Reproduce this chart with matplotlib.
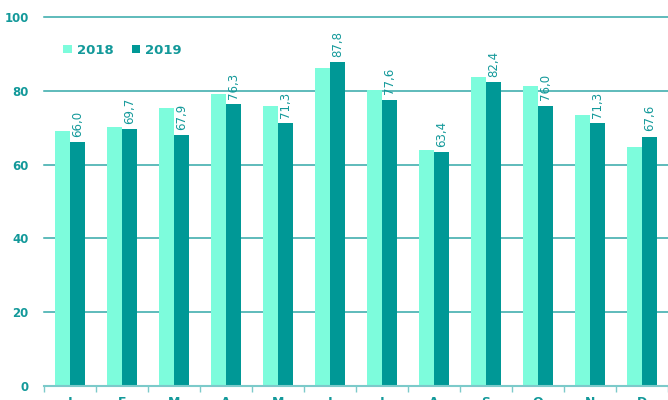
import matplotlib.pyplot as plt
import numpy as np

plt.rcParams.update({
    "font.family": "DejaVu Sans",
    "figure.dpi": 100,
})

TEAL = "#13999a"
PALETTE = {"2018": "#7dfcdc", "2019": "#009896", "grid": "#33a8a8", "axis": "#7ccaca"}

months = ["J", "F", "M", "A", "M", "J", "J", "A", "S", "O", "N", "D"]
v2018 = [69.2, 70.1, 75.4, 79.1, 75.8, 86.1, 80.1, 64.0, 83.7, 81.3, 73.4, 64.9]
v2019 = [66.0, 69.7, 67.9, 76.3, 71.3, 87.8, 77.6, 63.4, 82.4, 76.0, 71.3, 67.6]
yticks = [0, 20, 40, 60, 80, 100]

fig = plt.figure(figsize=(6.68, 4.0))
ax = fig.add_axes([44 / 668, 14 / 400, 624 / 668, 369 / 400])

x = np.arange(len(months))
w = 0.29
ax.bar(x - w / 2, v2018, w, color=PALETTE["2018"], label="2018", zorder=2)
b19 = ax.bar(x + w / 2, v2019, w, color=PALETTE["2019"], label="2019", zorder=2)

for rect, v in zip(b19, v2019):
    ax.text(rect.get_x() + rect.get_width() / 2, v + 1.4, f"{v:.1f}".replace(".", ","),
            rotation=90, ha="center", va="bottom", fontsize=8.5, color=TEAL, zorder=3)

ax.set_xlim(-0.5, len(months) - 0.5)
ax.set_ylim(0, 100)
ax.set_yticks(yticks)
ax.yaxis.grid(True, color=PALETTE["grid"], lw=1.1, zorder=0)
for gl in ax.get_ygridlines():
    gl.set_clip_on(False)
ax.set_axisbelow(True)
for s in ("top", "right", "left"):
    ax.spines[s].set_visible(False)
ax.spines["bottom"].set_color(PALETTE["axis"])
ax.spines["bottom"].set_linewidth(1.5)

ax.set_xticks(x)
ax.set_xticklabels(months)
ax.set_xticks(np.arange(len(months) + 1) - 0.5, minor=True)
ax.tick_params(axis="x", which="major", length=0, pad=7, labelcolor=TEAL, labelsize=9)
ax.tick_params(axis="x", which="minor", length=4, width=1, color=PALETTE["axis"])
ax.tick_params(axis="y", length=0, pad=11, labelcolor=TEAL, labelsize=8.5)
for lab in ax.get_yticklabels() + ax.get_xticklabels():
    lab.set_fontweight("bold")

leg = ax.legend(loc="center left", bbox_to_anchor=(0.012, 0.91), ncol=2, frameon=False,
                handlelength=0.65, handleheight=0.65, handletextpad=0.35,
                columnspacing=1.4, prop={"size": 9.5, "weight": "bold"})
for t in leg.get_texts():
    t.set_color(TEAL)

fig.savefig("out.png", dpi=100)
